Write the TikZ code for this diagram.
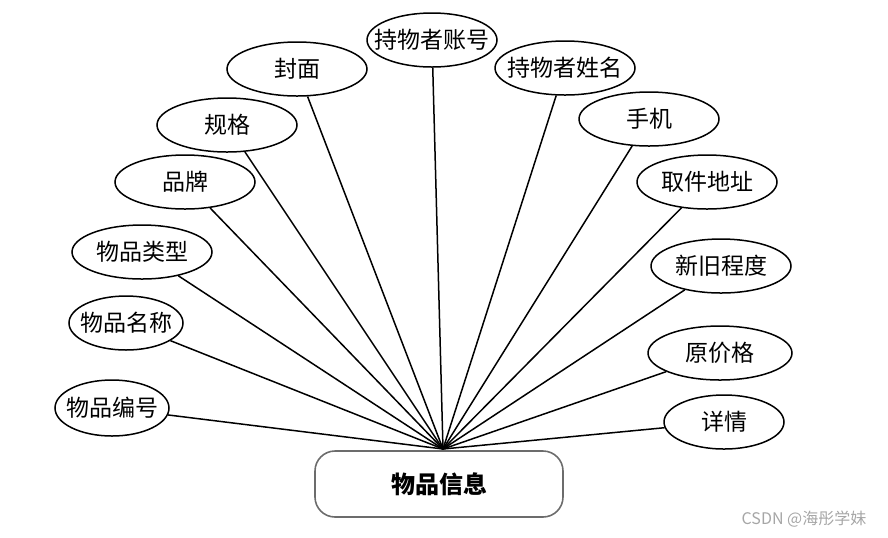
\documentclass[tikz,border=0pt]{standalone}
\usepackage{fontspec}
\setmainfont{Noto Sans CJK SC}
\usetikzlibrary{shapes.geometric}
\tikzset{
    % 属性椭圆
    attr/.style={
        ellipse,
        draw,
        line width=0.75pt,
        minimum width=70pt,
        minimum height=27pt,
        inner xsep=-6pt,
        inner ysep=0pt,
        font=\fontsize{11.5}{13}\selectfont
    },
    % 实体圆角框
    entity/.style={
        rectangle,
        rounded corners=10pt,
        draw=gray!85!black,
        line width=0.8pt,
        minimum width=124pt,
        minimum height=33pt,
        font=\bfseries\fontsize{12}{14}\selectfont
    },
    link/.style={
        line width=0.75pt,
        black
    }
}

\begin{document}
\begin{tikzpicture}[x=0.5pt,y=-0.5pt]
	\useasboundingbox (0,0) rectangle (888,537);

	% 实体
	\node[entity] (item) at (439,484) {物品信息};
	\coordinate (hub) at (443,449);

	% 左侧属性
	\node[attr,minimum width=57pt,minimum height=28pt] (bianhao) at (112,408) {物品编号};
	\node[attr,minimum width=57pt] (mingcheng) at (126,323) {物品名称};
	\node[attr] (leixing) at (142,252) {物品类型};
	\node[attr] (pinpai) at (185,182) {品牌};
	\node[attr] (guige) at (227,125) {规格};
	\node[attr] (fengmian) at (297,69) {封面};
	\node[attr,minimum width=65pt] (zhanghao) at (432,40) {持物者账号};

	% 右侧属性
	\node[attr] (xingming) at (565,68) {持物者姓名};
	\node[attr] (shouji) at (649,119) {手机};
	\node[attr] (dizhi) at (707,182) {取件地址};
	\node[attr] (chengdu) at (721,266) {新旧程度};
	\node[attr,minimum width=72pt] (yuanjia) at (720,353) {原价格};
	\node[attr,minimum width=60pt] (xiangqing) at (724,422) {详情};

	% 连线
	\draw[link] (bianhao) -- (hub);
	\draw[link] (mingcheng) -- (hub);
	\draw[link] (leixing) -- (hub);
	\draw[link] (pinpai) -- (hub);
	\draw[link] (guige) -- (hub);
	\draw[link] (fengmian) -- (hub);
	\draw[link] (zhanghao) -- (hub);
	\draw[link] (xingming) -- (hub);
	\draw[link] (shouji) -- (hub);
	\draw[link] (dizhi) -- (hub);
	\draw[link] (chengdu) -- (hub);
	\draw[link] (yuanjia) -- (hub);
	\draw[link] (xiangqing) -- (hub);

	% 水印
	\node[gray!70,font=\fontsize{8}{9}\selectfont] (mark) at (804,519) {CSDN @海彤学妹};
\end{tikzpicture}
\end{document}
